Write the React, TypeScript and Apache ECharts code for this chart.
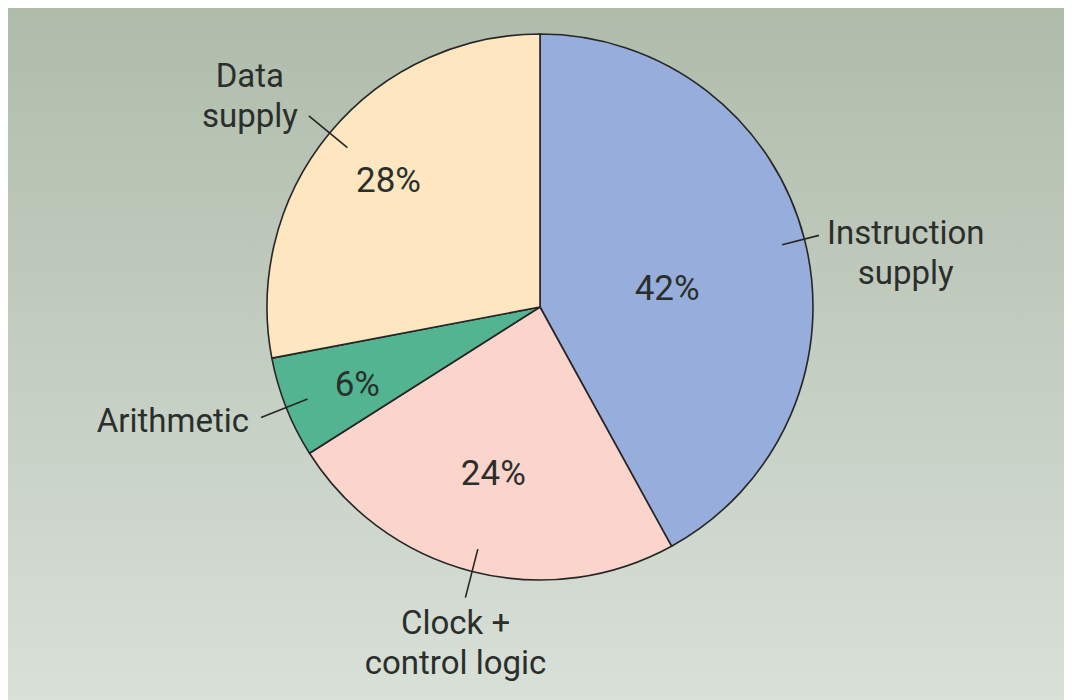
import React, { useEffect, useRef } from "react";
import * as echarts from "echarts";

// Data
const categories = ["Instruction\nsupply", "Clock +\ncontrol logic", "Arithmetic", "Data\nsupply"];
const values = [42, 24, 6, 28];
const colors = ["#97addb", "#fbd4cb", "#52b491", "#fde6c0"];

// Label fine-tuning offsets (styling, not data)
const innerOffsets = [[-8, 16], [-12, 31], [-53, 26], [-44, -38]];
const outerOffsets = [[8, 17], [81, 45], [-12, 3], [-11, -20]];
const outerLineLen = [38, 50, 50, 50];

const FONT = 'Roboto, "DejaVu Sans Condensed", sans-serif';
const FS = 33;
const FS_PCT = 35;
const TEXT = "#2b2f2b";

export default function App() {
  const ref = useRef<HTMLDivElement>(null);
  useEffect(() => {
    if (!ref.current) return;
    const chart = echarts.init(ref.current, undefined, { renderer: "svg" });
    const center = [532, 301];
    const R = 273;
    chart.setOption({
      animation: false,
      backgroundColor: "transparent",
      series: [
        {
          type: "pie",
          z: 2,
          center,
          radius: [0, R],
          startAngle: 90,
          clockwise: true,
          avoidLabelOverlap: false,
          silent: true,
          itemStyle: { borderColor: "#262626", borderWidth: 1.6 },
          label: {
            show: true,
            position: "inside",
            formatter: "{c}%",
            fontFamily: FONT,
            fontSize: FS_PCT,
            color: TEXT,
          },
          labelLine: { show: false },
          labelLayout: (p: any) => ({ dx: innerOffsets[p.dataIndex][0], dy: innerOffsets[p.dataIndex][1] }),
          data: values.map((v, i) => ({ name: categories[i], value: v, itemStyle: { color: colors[i] } })),
        },
        {
          type: "pie",
          z: 5,
          center,
          radius: [0, 250],
          startAngle: 90,
          clockwise: true,
          avoidLabelOverlap: false,
          silent: true,
          itemStyle: { color: "transparent", borderWidth: 0 },
          label: {
            show: true,
            position: "outside",
            distanceToLabelLine: 0,
            formatter: (p: any) => p.name.split("\n").map((s: string) => `{c|${s}}`).join("\n"),
            rich: { c: { align: "center", fontFamily: FONT, fontSize: FS, color: TEXT, lineHeight: 40 } },
            fontFamily: FONT,
            fontSize: FS,
            lineHeight: 40,
            color: TEXT,
          },
          labelLine: { show: true, length: 50, length2: 0, lineStyle: { color: "#262626", width: 1.6 } },
          labelLayout: (p: any) => ({ dx: outerOffsets[p.dataIndex][0], dy: outerOffsets[p.dataIndex][1] }),
          data: values.map((v, i) => ({
            name: categories[i],
            value: v,
            labelLine: { length: outerLineLen[i] },
          })),
        },
      ],
    });
    return () => chart.dispose();
  }, []);
  return (
    <div
      ref={ref}
      style={{
        width: 1064,
        height: 694,
        marginTop: -2,
        background: "linear-gradient(to bottom, #afbcaa 0%, #c3cdc1 50%, #d9e0d8 100%)",
      }}
    />
  );
}
